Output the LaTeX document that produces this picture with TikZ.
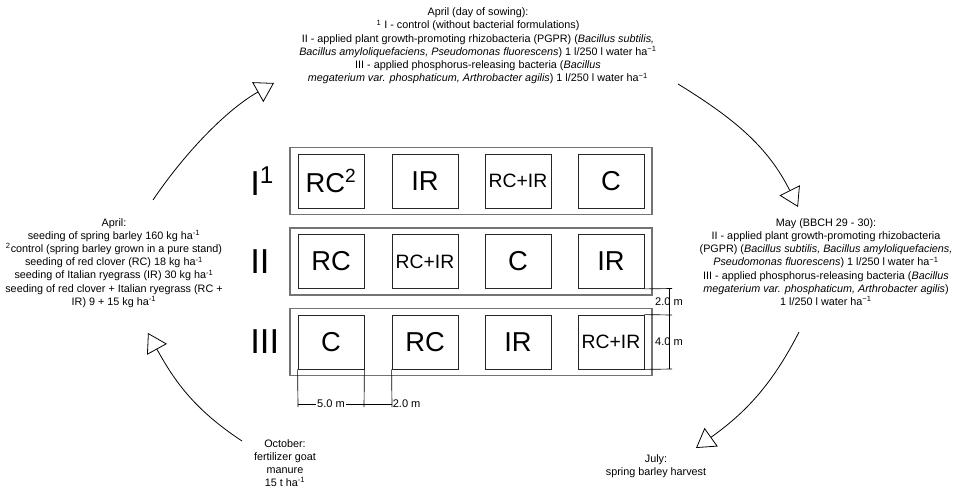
\documentclass[tikz,border=0pt]{standalone}
\usepackage{fontspec}
\setmainfont{Liberation Sans}
\usetikzlibrary{arrows.meta}

\begin{document}
\begin{tikzpicture}[x=0.75pt,y=-0.75pt,
  note/.style={align=center,inner sep=0pt,font=\fontsize{8.1}{9.9}\selectfont},
  plotbox/.style={draw=black!85,line width=0.6pt,minimum width=49.5pt,minimum height=40.5pt,inner sep=0pt,font=\fontsize{20.5}{24}\selectfont},
  mixbox/.style={plotbox,font=\fontsize{14.5}{17}\selectfont},
  rowbox/.style={draw=black!55,line width=0.9pt,minimum width=271.5pt,minimum height=50.25pt},
  rowlab/.style={anchor=west,inner sep=0pt,font=\fontsize{26}{30}\selectfont},
  dimlab/.style={inner sep=1pt,font=\fontsize{8.3}{9}\selectfont},
  dimline/.style={line width=0.5pt},
  turn/.style={line width=0.6pt,-{Triangle[open,length=14pt,width=17pt]}}]
\useasboundingbox (0,0) rectangle (959,489);

\node[rowbox] (r1) at (471,181) {};
\node[rowbox] (r2) at (471,261.5) {};
\node[rowbox] (r3) at (471,342) {};

\node[rowlab] (l1) at (250,181) {I\textsuperscript{1}};
\node[rowlab] (l2) at (250,261.5) {II};
\node[rowlab] (l3) at (250,342) {III};

\node[plotbox] (p11) at (331,181) {RC\textsuperscript{2}};
\node[plotbox] (p12) at (425,181) {IR};
\node[mixbox] (p13) at (518,181) {RC+IR};
\node[plotbox] (p14) at (611,181) {C};

\node[plotbox] (p21) at (331,261.5) {RC};
\node[mixbox] (p22) at (425,261.5) {RC+IR};
\node[plotbox] (p23) at (518,261.5) {C};
\node[plotbox] (p24) at (611,261.5) {IR};

\node[plotbox] (p31) at (331,342) {C};
\node[plotbox] (p32) at (425,342) {RC};
\node[plotbox] (p33) at (518,342) {IR};
\node[mixbox] (p34) at (611,342) {RC+IR};

\draw[dimline] (p24.south east) -- (672,288.5);
\draw[dimline] (p34.north east) -- (672,315);
\draw[dimline] (p34.south east) -- (672,369);
\draw[dimline] (669,288.5) -- (669,369);
\node[dimlab] (h1) at (669,302) {2.0 m};
\node[dimlab] (h2) at (669,342) {4.0 m};

\draw[dimline] (p31.south west) -- (298,407);
\draw[dimline] (p31.south east) -- (364,407);
\draw[dimline] (p32.south west) -- (392,407);
\draw[dimline] (298,404) -- (392,404);
\node[dimlab,fill=white] (w1) at (331,404) {5.0 m};
\node[dimlab,anchor=west,inner sep=0pt] (w2) at (392.5,404) {2.0 m};

\node[note] (sow) at (478,46) {April (day of sowing):\\
\textsuperscript{1} I - control (without bacterial formulations)\\
II - applied plant growth-promoting rhizobacteria (PGPR) (\textit{Bacillus subtilis,}\\
\textit{Bacillus amyloliquefaciens, Pseudomonas fluorescens}) 1 l/250 l water ha\textsuperscript{−1}\\
III - applied phosphorus-releasing bacteria (\textit{Bacillus}\\
\textit{megaterium var. phosphaticum, Arthrobacter agilis}) 1 l/250 l water ha\textsuperscript{−1}};

\node[note] (april) at (114,263) {April:\\
seeding of spring barley 160 kg ha\textsuperscript{-1}\\
\textsuperscript{2}control (spring barley grown in a pure stand)\\
seeding of red clover (RC) 18 kg ha\textsuperscript{-1}\\
seeding of Italian ryegrass (IR) 30 kg ha\textsuperscript{-1}\\
seeding of red clover + Italian ryegrass (RC +\\
IR) 9 + 15 kg ha\textsuperscript{-1}};

\node[note] (may) at (826,262) {May (BBCH 29 - 30):\\
II - applied plant growth-promoting rhizobacteria\\
(PGPR) (\textit{Bacillus subtilis, Bacillus amyloliquefaciens,}\\
\textit{Pseudomonas fluorescens}) 1 l/250 l water ha\textsuperscript{−1}\\
III - applied phosphorus-releasing bacteria (\textit{Bacillus}\\
\textit{megaterium var. phosphaticum, Arthrobacter agilis})\\
1 l/250 l water ha\textsuperscript{−1}};

\node[note] (july) at (656,466) {July:\\spring barley harvest};
\node[note] (oct) at (285,463) {October:\\fertilizer goat\\manure\\15 t ha\textsuperscript{-1}};

\coordinate (a1) at (153,200);
\coordinate (a2) at (274,83);
\coordinate (b1) at (678,84);
\coordinate (b2) at (798,207);
\coordinate (c1) at (799,332);
\coordinate (c2) at (696,448);
\coordinate (d1) at (242,441);
\coordinate (d2) at (148,333);
\draw[turn] (a1) .. controls (184,154) and (226,110) .. (a2);
\draw[turn] (b1) .. controls (735,119) and (768,147) .. (b2);
\draw[turn] (c1) .. controls (772,385) and (745,413) .. (c2);
\draw[turn] (d1) .. controls (195,410) and (175,382) .. (d2);
\end{tikzpicture}
\end{document}
